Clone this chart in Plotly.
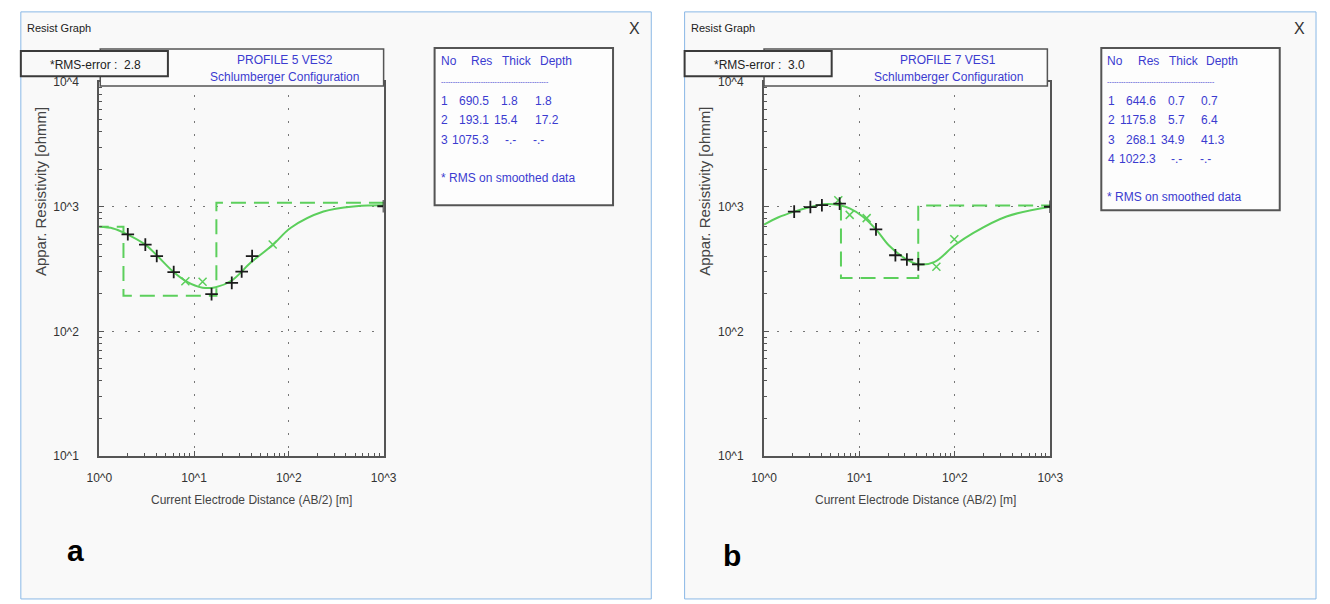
import plotly.graph_objects as go

W, H = 1330, 604

# ---------------- data ----------------
# Panel a : PROFILE 5 VES2
layer_no_a = [1, 2, 3]
res_a = [690.5, 193.1, 1075.3]
thick_a = [1.8, 15.4]
depth_a = [1.8, 17.2]
rms_a = "2.8"

curve_x_a = [1, 1.4, 1.83, 3.06, 4.04, 6.0, 8.26, 12.3, 16.9, 25, 40.4, 67.6, 105, 232, 512, 1000]
curve_y_a = [690, 670, 618, 497, 408, 302, 252, 224, 226, 256, 361, 493, 678, 915, 1011, 1030]
plus_x_a = [2.0, 3.06, 4.04, 6.1, 15.3, 25, 31.8, 41, 1000]
plus_y_a = [601, 497, 402, 299, 199, 245, 302, 402, 1010]
cross_x_a = [8.1, 12.3, 67.6]
cross_y_a = [252, 250, 497]

# Panel b : PROFILE 7 VES1
layer_no_b = [1, 2, 3, 4]
res_b = [644.6, 1175.8, 268.1, 1022.3]
thick_b = [0.7, 5.7, 34.9]
depth_b = [0.7, 6.4, 41.3]
rms_b = "3.0"

curve_x_b = [1, 1.4, 2.07, 3.06, 4.2, 6.2, 7.9, 10.8, 14.9, 20.4, 30.2, 41.4, 61.4, 98.6, 158, 348, 1000]
curve_y_b = [719, 820, 914, 995, 1048, 1029, 970, 836, 658, 488, 384, 345, 361, 488, 620, 836, 1000]
plus_x_b = [2.07, 3.06, 4.04, 6.2, 14.9, 23.8, 31.4, 41.4, 1000]
plus_y_b = [914, 995, 1029, 1060, 658, 408, 377, 345, 1000]
cross_x_b = [6.0, 7.9, 11.9, 64, 98.6]
cross_y_b = [1127, 861, 811, 330, 549]

x_ticks = [1, 10, 100, 1000]
x_ticktext = ["10^0", "10^1", "10^2", "10^3"]
y_ticks = [10, 100, 1000, 10000]
y_ticktext = ["10^1", "10^2", "10^3", "10^4"]

# ---------------- helpers ----------------
def px(x):
    return x / W

def py(y):
    return 1 - y / H

GREEN = "#5ccf5c"
BLUE_TXT = "#3b3bd0"
AX = "#555555"
FONT = "Liberation Sans Narrow, Arial Narrow, Liberation Sans, Arial"


def step_model(res, depth, first):
    # draws the model steps starting from layer boundary index `first`
    xs, ys = [], []
    if first == 0:
        xs, ys = [0.5], [res[0]]
    for i in range(first, len(depth)):
        d = depth[i]
        top = res[i] if (i > first or first == 0) else res[-1]
        xs += [d, d]
        ys += [top, res[i + 1]]
    xs.append(2000)
    ys.append(res[-1])
    return xs, ys


fig = go.Figure()

panels = [
    dict(xa="x", ya="y", curve=(curve_x_a, curve_y_a), plus=(plus_x_a, plus_y_a),
         cross=(cross_x_a, cross_y_a), res=res_a, depth=depth_a, first=0),
    dict(xa="x2", ya="y2", curve=(curve_x_b, curve_y_b), plus=(plus_x_b, plus_y_b),
         cross=(cross_x_b, cross_y_b), res=res_b, depth=depth_b, first=1),
]

for p in panels:
    sx, sy = step_model(p["res"], p["depth"], p["first"])
    fig.add_trace(go.Scatter(x=sx, y=sy, mode="lines", xaxis=p["xa"], yaxis=p["ya"],
                             line=dict(color=GREEN, width=2, dash="15px,8px"),
                             showlegend=False, hoverinfo="skip"))
    fig.add_trace(go.Scatter(x=p["curve"][0], y=p["curve"][1], mode="lines",
                             xaxis=p["xa"], yaxis=p["ya"],
                             line=dict(color=GREEN, width=2, shape="spline", smoothing=1.0),
                             showlegend=False))
    fig.add_trace(go.Scatter(x=p["cross"][0], y=p["cross"][1], mode="markers",
                             xaxis=p["xa"], yaxis=p["ya"],
                             marker=dict(symbol="x-thin", size=8, color=GREEN,
                                         line=dict(color=GREEN, width=1.5)),
                             showlegend=False))
    fig.add_trace(go.Scatter(x=p["plus"][0], y=p["plus"][1], mode="markers",
                             xaxis=p["xa"], yaxis=p["ya"],
                             marker=dict(symbol="cross-thin", size=9, color="#1a1a1a",
                                         line=dict(color="#1a1a1a", width=1.8)),
                             showlegend=False))

minor_x = [m * 10 ** e for e in range(0, 3) for m in range(2, 10)]
minor_y = [m * 10 ** e for e in range(1, 4) for m in range(2, 10)]

def xaxis(dom, anchor):
    return dict(type="log", range=[0, 3], domain=dom, anchor=anchor,
                tickvals=x_ticks, ticktext=x_ticktext, ticks="inside", ticklen=5,
                tickcolor=AX, showline=True, linecolor=AX, linewidth=2, mirror=True,
                showgrid=True, gridcolor="#777", griddash="2px,11px", gridwidth=1,
                tickfont=dict(family=FONT, size=12, color="#333"),
                ticklabelstandoff=10, zeroline=False,
                minor=dict(tickvals=minor_x, ticks="inside", ticklen=3, tickcolor=AX,
                           showgrid=False))

def yaxis(anchor):
    return dict(type="log", range=[1, 4], domain=[py(459.5), py(77)], anchor=anchor,
                tickvals=y_ticks, ticktext=y_ticktext, ticks="inside", ticklen=5,
                tickcolor=AX, showline=True, linecolor=AX, linewidth=2, mirror=True,
                showgrid=True, gridcolor="#777", griddash="2px,11px", gridwidth=1,
                tickfont=dict(family=FONT, size=12, color="#333"),
                ticklabelstandoff=16, zeroline=False,
                minor=dict(tickvals=minor_y, ticks="inside", ticklen=3, tickcolor=AX,
                           showgrid=False))

shapes = []
annotations = []

def rect(x0, y0, x1, y1, fill, line_color, lw, layer="above"):
    shapes.append(dict(type="rect", xref="paper", yref="paper",
                       x0=px(x0), x1=px(x1), y0=py(y1), y1=py(y0),
                       fillcolor=fill, line=dict(color=line_color, width=lw), layer=layer))

def text(x, y, s, size=12, color=BLUE_TXT, xanchor="left", family=FONT, angle=0, bold=False):
    if bold:
        s = "<b>" + s + "</b>"
    annotations.append(dict(x=px(x), y=py(y), xref="paper", yref="paper", text=s,
                            showarrow=False, xanchor=xanchor, yanchor="middle",
                            font=dict(family=family, size=size, color=color),
                            textangle=angle))

windows = [
    dict(x0=8, x1=651, off=0, profile="PROFILE 5 VES2", rms=rms_a,
         nos=layer_no_a, res=res_a, thick=thick_a, depth=depth_a,
         tbl=(430, 612, 42, 203), label="a", lab_xy=(64, 556)),
    dict(x0=685, x1=1329, off=677, profile="PROFILE 7 VES1", rms=rms_b,
         nos=layer_no_b, res=res_b, thick=thick_b, depth=depth_b,
         tbl=(1110, 1292, 42, 208), label="b", lab_xy=(733, 562)),
]

for wdw in windows:
    o = wdw["off"]
    # window frame
    rect(wdw["x0"], 5, wdw["x1"], 606, "#f9f9f9", "#8ab8e6", 1, layer="below")
    text(wdw["x0"] + 4, 22, "Resist Graph", size=11, color="#222", family="Liberation Sans")
    text(wdw["x1"] - 17, 22, "X", size=16, color="#333", xanchor="center", family="Liberation Sans")
    # title box
    rect(89 + o, 43, 378 + o, 81, "#fbfbfb", AX, 1.5)
    rect(8 + o, 45, 158 + o, 71, "#f9f9f9", "#3a3a3a", 2)
    text(84 + o, 59, "*RMS-error :  " + wdw["rms"], size=12, color="#222", xanchor="center")
    text(277 + o, 54, wdw["profile"], size=12, xanchor="center")
    text(277 + o, 72, "Schlumberger Configuration", size=12, xanchor="center")
    # table box
    tx0, tx1, ty0, ty1 = wdw["tbl"]
    rect(tx0, ty0, tx1, ty1, "#fdfdfd", AX, 2)
    bx = tx0 + 4
    hy = 55
    text(bx, hy, "No", size=12)
    text(bx + 31, hy, "Res", size=12)
    text(bx + 63, hy, "Thick", size=12)
    text(bx + 101, hy, "Depth", size=12)
    text(bx, 76, "-" * 46, size=7)
    row_y = hy + 41
    for i, n in enumerate(wdw["nos"]):
        yy = row_y + i * 20
        text(bx + 6, yy, str(n), size=12, xanchor="center")
        text(bx + 54, yy, f"{wdw['res'][i]:.1f}", size=12, xanchor="right")
        if i < len(wdw["thick"]):
            text(bx + 83, yy, f"{wdw['thick'][i]:.1f}", size=12, xanchor="right")
            text(bx + 96, yy, f"{wdw['depth'][i]:.1f}", size=12)
        else:
            text(bx + 73, yy, "-.-", size=12, xanchor="center")
            text(bx + 102, yy, "-.-", size=12, xanchor="center")
    text(bx, row_y + len(wdw["nos"]) * 20 + 19, "* RMS on smoothed data", size=12)
    # axis titles
    text(28 + o, 189, "Appar. Resistivity [ohmm]", size=15, color="#444", xanchor="center", angle=-90)
    text(243 + o, 505, "Current Electrode Distance (AB/2) [m]", size=12, color="#444", xanchor="center")
    # panel letter
    text(wdw["lab_xy"][0], wdw["lab_xy"][1], wdw["label"], size=30, color="#000",
         xanchor="center", family="Liberation Sans, Arial", bold=True)

fig.update_layout(
    width=W, height=H, margin=dict(l=0, r=0, t=0, b=0),
    paper_bgcolor="white", plot_bgcolor="#fefefe",
    xaxis=xaxis([px(88), px(378)], "y"),
    yaxis=yaxis("x"),
    xaxis2=xaxis([px(766), px(1058)], "y2"),
    yaxis2=yaxis("x2"),
    shapes=shapes, annotations=annotations, showlegend=False,
)

fig.write_html("out.html", config={"displayModeBar": False},
               post_script="document.body.style.margin='0';document.body.style.padding='0';"
                           "document.documentElement.style.overflow='hidden';")
